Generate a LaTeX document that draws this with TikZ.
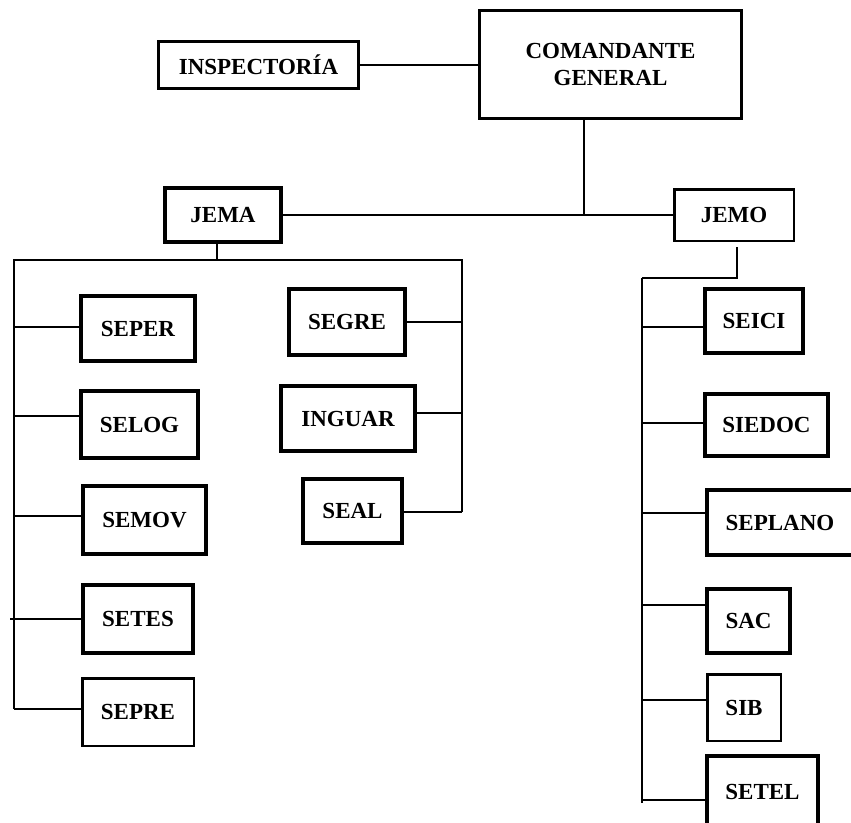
\documentclass[tikz,border=0pt]{standalone}
\usepackage{fontspec}
\setmainfont{Liberation Serif}
\begin{document}
\begin{tikzpicture}[x=1pt,y=-1pt,
  box/.style={draw, inner sep=0pt, align=center,
    font=\bfseries\fontsize{23}{27}\selectfont},
  heavy/.style={box, line width=4pt},
  light/.style={box, line width=2.5pt},
  medium/.style={box, line width=3pt},
  link/.style={line width=2.2pt},
  bus/.style={line width=2.6pt}]
\useasboundingbox (0,0) rectangle (851,822);

% top level
\node[medium, minimum width=200pt, minimum height=47pt] (insp) at (258.5,65) {INSPECTORÍA};
\node[medium, minimum width=262pt, minimum height=108pt] (cmd) at (610.5,64.5) {COMANDANTE\\GENERAL};

% chiefs of staff
\node[heavy, minimum width=116pt, minimum height=54pt] (jema) at (223,215) {JEMA};
\node[light, minimum width=119.5pt, minimum height=51.5pt] (jemo) at (734,215) {JEMO};

% JEMA, left column
\node[heavy, minimum width=114pt, minimum height=65pt] (seper) at (138,328.5) {SEPER};
\node[heavy, minimum width=117pt, minimum height=67pt] (selog) at (139.5,424.5) {SELOG};
\node[heavy, minimum width=123pt, minimum height=68pt] (semov) at (144.5,520) {SEMOV};
\node[heavy, minimum width=110pt, minimum height=68pt] (setes) at (138,619) {SETES};
\node[light, minimum width=111.5pt, minimum height=67.5pt] (sepre) at (138,712) {SEPRE};

% JEMA, right column
\node[heavy, minimum width=116pt, minimum height=66pt] (segre) at (347,322) {SEGRE};
\node[heavy, minimum width=134pt, minimum height=65pt] (inguar) at (348,418.5) {INGUAR};
\node[heavy, minimum width=99pt, minimum height=64pt] (seal) at (352.5,511) {SEAL};

% JEMO column
\node[heavy, minimum width=98pt, minimum height=64pt] (seici) at (754,321) {SEICI};
\node[heavy, minimum width=123pt, minimum height=62pt] (siedoc) at (766.5,425) {SIEDOC};
\node[heavy, minimum width=146pt, minimum height=65pt] (seplano) at (780,522.5) {SEPLANO};
\node[heavy, minimum width=83pt, minimum height=64pt] (sac) at (748.5,621) {SAC};
\node[light, minimum width=73.5pt, minimum height=66.5pt] (sib) at (744,707.5) {SIB};
\node[heavy, minimum width=111pt, minimum height=72pt] (setel) at (762.5,792) {SETEL};

% bus points
\coordinate (top) at (584,215);
\coordinate (jb) at (217,260);
\coordinate (lt) at (14,260);
\coordinate (rt) at (462,260);
\coordinate (lb) at (14,709);
\coordinate (rb) at (462,512);
\coordinate (jm) at (737,278);
\coordinate (mt) at (642,278);
\coordinate (mb) at (642,803);

% upper links
\draw[link] (insp.east) -- (insp.east -| cmd.west);
\draw[link] (top |- cmd.south) -- (top);
\draw[link] (jema.east) -- (jemo.west);
\draw[link] (jb |- jema.south) -- (jb);

% JEMA buses
\draw[bus] (lb) -- (lt) -- (rt) -- (rb);
\coordinate (l1) at (14,327);
\coordinate (l2) at (14,416);
\coordinate (l3) at (14,516);
\coordinate (l4) at (10,619);
\draw[link] (l1) -- (l1 -| seper.west);
\draw[link] (l2) -- (l2 -| selog.west);
\draw[link] (l3) -- (l3 -| semov.west);
\draw[link] (l4) -- (l4 -| setes.west);
\draw[link] (lb) -- (lb -| sepre.west);
\coordinate (r1) at (462,322);
\coordinate (r2) at (462,413);
\draw[link] (r1) -- (r1 -| segre.east);
\draw[link] (r2) -- (r2 -| inguar.east);
\draw[link] (rb) -- (rb -| seal.east);

% JEMO bus
\draw[link] ([yshift=-5pt]jm |- jemo.south) -- (jm) -- (mt);
\draw[bus] (mt) -- (mb);
\coordinate (m1) at (642,327);
\coordinate (m2) at (642,423);
\coordinate (m3) at (642,513);
\coordinate (m4) at (642,605);
\coordinate (m5) at (642,700);
\coordinate (m6) at (642,800);
\draw[link] (m1) -- (m1 -| seici.west);
\draw[link] (m2) -- (m2 -| siedoc.west);
\draw[link] (m3) -- (m3 -| seplano.west);
\draw[link] (m4) -- (m4 -| sac.west);
\draw[link] (m5) -- (m5 -| sib.west);
\draw[link] (m6) -- (m6 -| setel.west);
\end{tikzpicture}
\end{document}
